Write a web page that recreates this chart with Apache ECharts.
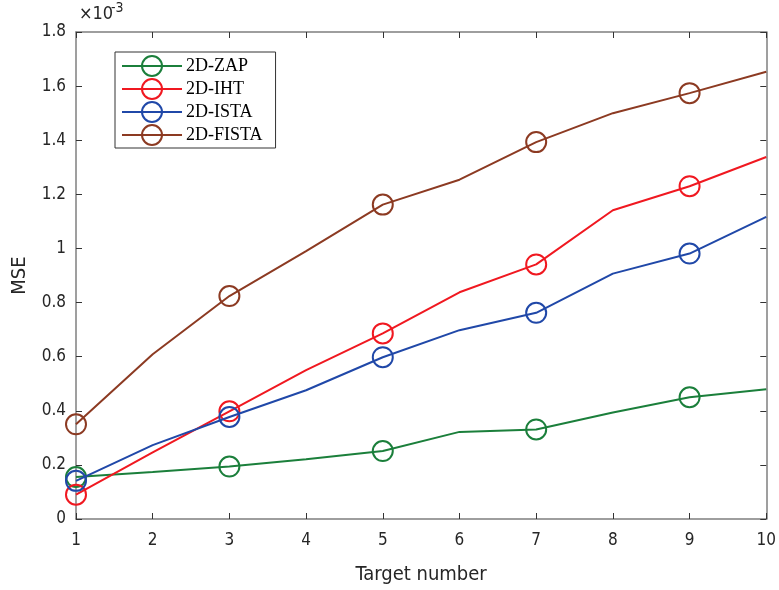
<!DOCTYPE html>
<html>
<head>
<meta charset="utf-8">
<script src="https://cdn.jsdelivr.net/npm/echarts@6/dist/echarts.min.js"></script>
<style>
  html, body { margin: 0; padding: 0; background: #fff; }
  #chart { width: 779px; height: 590px; }
</style>
</head>
<body>
<div id="chart"></div>
<script>
// Target counts on the x axis
const targets = [1, 2, 3, 4, 5, 6, 7, 8, 9, 10];
// MSE values, in units of 1e-3
const mseZAP   = [0.155, 0.174, 0.194, 0.221, 0.251, 0.322, 0.331, 0.394, 0.450, 0.480];
const mseIHT   = [0.090, 0.246, 0.398, 0.550, 0.686, 0.838, 0.941, 1.141, 1.230, 1.338];
const mseISTA  = [0.141, 0.273, 0.377, 0.476, 0.598, 0.698, 0.762, 0.907, 0.981, 1.117];
const mseFISTA = [0.350, 0.609, 0.824, 0.990, 1.162, 1.254, 1.393, 1.500, 1.574, 1.653];
const seriesNames = ['2D-ZAP', '2D-IHT', '2D-ISTA', '2D-FISTA'];
const seriesColors = ['#1b7f3b', '#f01820', '#2048a8', '#8c3a22'];
const yTicks = [0, 0.2, 0.4, 0.6, 0.8, 1, 1.2, 1.4, 1.6, 1.8];

const tickFont = "'Liberation Sans Narrow', 'DejaVu Sans Condensed', 'Liberation Sans', sans-serif";
const axisGrey = '#7f7f7f';
const textGrey = '#262626';

// markers only on odd target counts
function toPoints(values) {
  return targets.map((t, i) => (t % 2 === 1)
    ? [t, values[i]]
    : { value: [t, values[i]], symbol: 'none' });
}

const allValues = [mseZAP, mseIHT, mseISTA, mseFISTA];
const series = allValues.map((vals, k) => ({
  name: seriesNames[k],
  type: 'line',
  data: toPoints(vals),
  symbol: 'circle',
  symbolSize: 20,
  showAllSymbol: true,
  color: seriesColors[k],
  lineStyle: { width: 2, color: seriesColors[k] },
  itemStyle: { color: 'rgba(0,0,0,0)', borderColor: seriesColors[k], borderWidth: 2 },
  emphasis: { disabled: true },
  z: 3 + k
}));

const chart = echarts.init(document.getElementById('chart'), null, { renderer: 'canvas' });
chart.setOption({
  animation: false,
  backgroundColor: '#fff',
  grid: { left: 76, right: 11, top: 32, bottom: 70, containLabel: false },
  legend: {
    left: 115, top: 52,
    orient: 'vertical',
    data: seriesNames,
    itemWidth: 60, itemHeight: 25, itemGap: 1,
    padding: [3, 13, 2, 6],
    borderColor: '#333', borderWidth: 1,
    backgroundColor: '#fff',
    textStyle: { fontFamily: "'Liberation Serif', 'DejaVu Serif', serif", fontSize: 18, color: '#000', padding: [0, 0, 0, -1] }
  },
  xAxis: [{
    type: 'value', min: 1, max: 10, interval: 1,
    name: 'Target number', nameLocation: 'middle', nameGap: 46,
    nameTextStyle: { fontFamily: tickFont, fontSize: 20, color: textGrey },
    axisLine: { show: true, onZero: false, lineStyle: { color: axisGrey, width: 1.5 } },
    axisTick: { show: true, inside: true, length: 6, lineStyle: { color: '#333' } },
    axisLabel: { fontFamily: tickFont, fontSize: 17, color: textGrey, margin: 13 },
    splitLine: { show: false }
  }, {
    type: 'value', min: 1, max: 10, interval: 1, position: 'top',
    axisLine: { show: true, onZero: false, lineStyle: { color: axisGrey, width: 1.5 } },
    axisTick: { show: true, inside: true, length: 6, lineStyle: { color: '#333' } },
    axisLabel: { show: false }, splitLine: { show: false }
  }],
  yAxis: [{
    type: 'value', min: 0, max: 1.8, interval: 0.2,
    name: 'MSE', nameLocation: 'middle', nameGap: 46,
    nameTextStyle: { fontFamily: tickFont, fontSize: 20, color: textGrey },
    axisLine: { show: true, onZero: false, lineStyle: { color: axisGrey, width: 1.5 } },
    axisTick: { show: true, inside: true, length: 6, lineStyle: { color: '#333' } },
    axisLabel: {
      fontFamily: tickFont, fontSize: 17, color: textGrey, margin: 10,
      formatter: v => String(yTicks.find(t => Math.abs(t - v) < 1e-9) ?? +v.toFixed(1))
    },
    splitLine: { show: false }
  }, {
    type: 'value', min: 0, max: 1.8, interval: 0.2, position: 'right',
    axisLine: { show: true, onZero: false, lineStyle: { color: axisGrey, width: 1.5 } },
    axisTick: { show: true, inside: true, length: 6, lineStyle: { color: '#333' } },
    axisLabel: { show: false }, splitLine: { show: false }
  }],
  graphic: [{
    type: 'text', left: 79, top: 5,
    style: { text: '×10', fontFamily: tickFont, fontSize: 18, fill: textGrey }
  }, {
    type: 'text', left: 111, top: 1,
    style: { text: '-3', fontFamily: tickFont, fontSize: 14, fill: textGrey }
  }],
  series: series
});
</script>
</body>
</html>
